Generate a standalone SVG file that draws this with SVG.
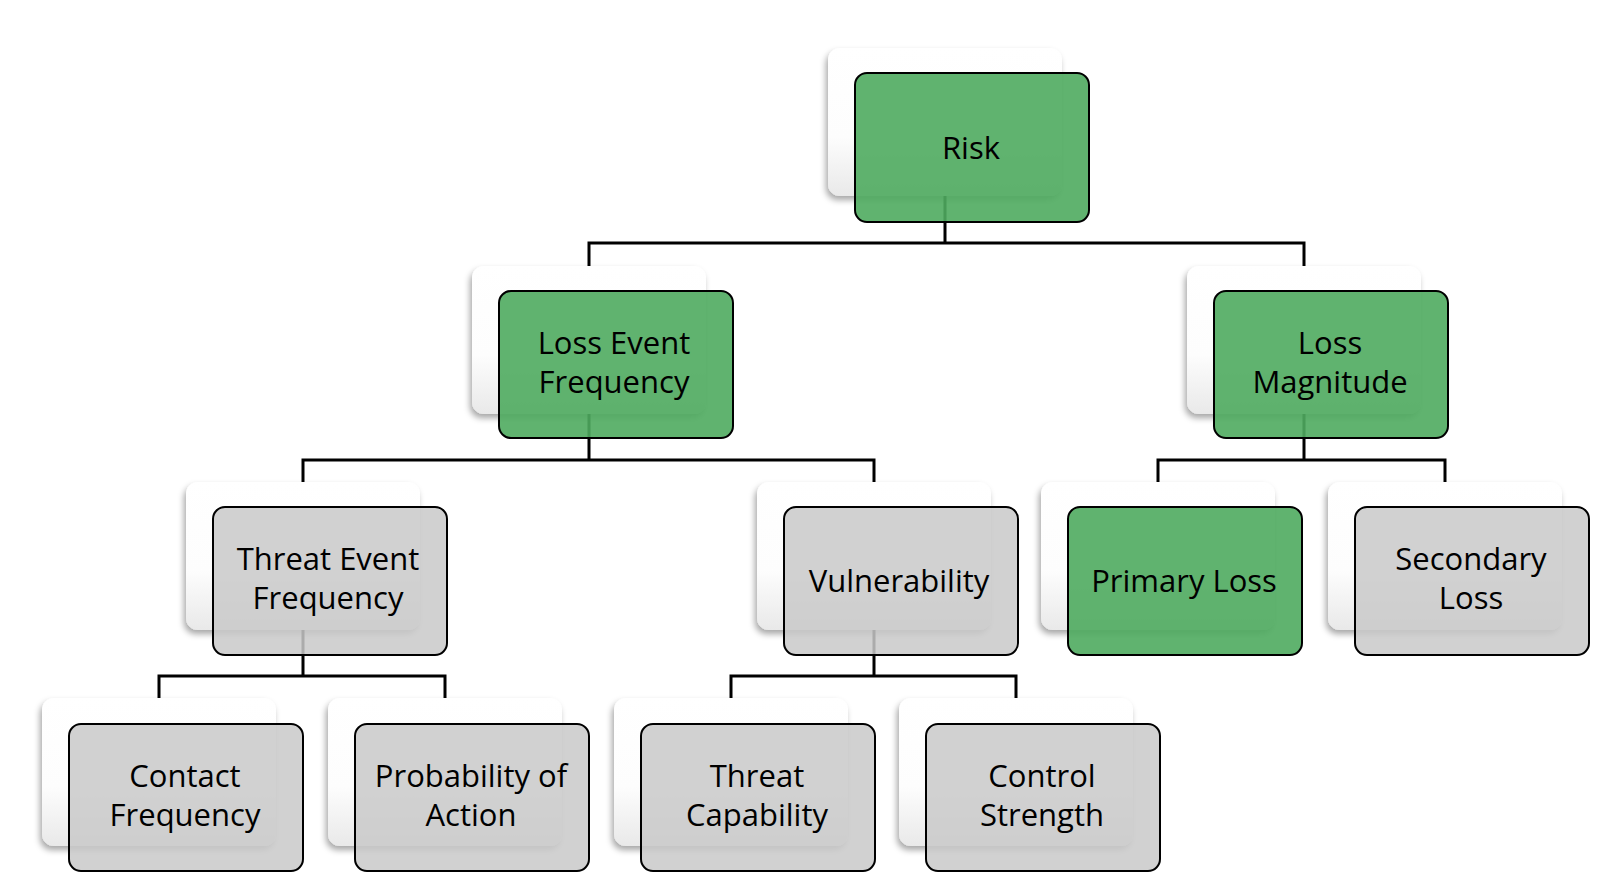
<svg xmlns="http://www.w3.org/2000/svg" width="1614" height="890" viewBox="0 0 1614 890">
<style>
.back{fill:url(#cardGrad);filter:url(#shadow)}
.green{fill:#4fab5f;fill-opacity:0.9;stroke:#000;stroke-width:2}
.gray{fill:#c9c9c9;fill-opacity:0.85;stroke:#000;stroke-width:2}
.lbl{font-family:"Open Sans","Noto Sans","Liberation Sans",sans-serif;font-size:31px;fill:#000;text-anchor:middle}
.conn{fill:none;stroke:#000;stroke-width:3}
</style>
<defs>
<linearGradient id="cardGrad" x1="0" y1="0" x2="0" y2="1">
<stop offset="0" stop-color="#ffffff"/>
<stop offset="0.6" stop-color="#fdfdfd"/>
<stop offset="1" stop-color="#e9e9e9"/>
</linearGradient>
<filter id="shadow" x="-10%" y="-10%" width="120%" height="130%">
<feDropShadow dx="-2" dy="4" stdDeviation="3" flood-color="#000" flood-opacity="0.35"/>
</filter>
</defs>
<rect width="1614" height="890" fill="#fff"/>
<g id="backs">
<rect class="back" x="828" y="48" width="234" height="148" rx="12"/>
<rect class="back" x="472" y="266" width="234" height="148" rx="12"/>
<rect class="back" x="1187" y="266" width="234" height="148" rx="12"/>
<rect class="back" x="186" y="482" width="234" height="148" rx="12"/>
<rect class="back" x="757" y="482" width="234" height="148" rx="12"/>
<rect class="back" x="1041" y="482" width="234" height="148" rx="12"/>
<rect class="back" x="1328" y="482" width="234" height="148" rx="12"/>
<rect class="back" x="42" y="698" width="234" height="148" rx="12"/>
<rect class="back" x="328" y="698" width="234" height="148" rx="12"/>
<rect class="back" x="614" y="698" width="234" height="148" rx="12"/>
<rect class="back" x="899" y="698" width="234" height="148" rx="12"/>
</g>
<g id="connectors">
<path class="conn" d="M945 196 V243 M589 266 V243 H1304 V266"/>
<path class="conn" d="M589 414 V460 M303 482 V460 H874 V482"/>
<path class="conn" d="M1304 414 V460 M1158 482 V460 H1445 V482"/>
<path class="conn" d="M303 630 V676 M159 698 V676 H445 V698"/>
<path class="conn" d="M874 630 V676 M731 698 V676 H1016 V698"/>
</g>
<g id="risk">
<rect class="green" x="855" y="73" width="234" height="149" rx="12"/>
<text class="lbl" x="971" y="159">Risk</text>
</g>
<g id="loss-event-frequency">
<rect class="green" x="499" y="291" width="234" height="147" rx="12"/>
<text class="lbl" x="614" y="354">Loss Event</text>
<text class="lbl" x="614" y="393">Frequency</text>
</g>
<g id="loss-magnitude">
<rect class="green" x="1214" y="291" width="234" height="147" rx="12"/>
<text class="lbl" x="1330" y="354">Loss</text>
<text class="lbl" x="1330" y="393">Magnitude</text>
</g>
<g id="threat-event-frequency">
<rect class="gray" x="213" y="507" width="234" height="148" rx="12"/>
<text class="lbl" x="328" y="570">Threat Event</text>
<text class="lbl" x="328" y="609">Frequency</text>
</g>
<g id="vulnerability">
<rect class="gray" x="784" y="507" width="234" height="148" rx="12"/>
<text class="lbl" x="899" y="592">Vulnerability</text>
</g>
<g id="primary-loss">
<rect class="green" x="1068" y="507" width="234" height="148" rx="12"/>
<text class="lbl" x="1184" y="592">Primary Loss</text>
</g>
<g id="secondary-loss">
<rect class="gray" x="1355" y="507" width="234" height="148" rx="12"/>
<text class="lbl" x="1471" y="570">Secondary</text>
<text class="lbl" x="1471" y="609">Loss</text>
</g>
<g id="contact-frequency">
<rect class="gray" x="69" y="724" width="234" height="147" rx="12"/>
<text class="lbl" x="185" y="787">Contact</text>
<text class="lbl" x="185" y="826">Frequency</text>
</g>
<g id="probability-of-action">
<rect class="gray" x="355" y="724" width="234" height="147" rx="12"/>
<text class="lbl" x="471" y="787">Probability of</text>
<text class="lbl" x="471" y="826">Action</text>
</g>
<g id="threat-capability">
<rect class="gray" x="641" y="724" width="234" height="147" rx="12"/>
<text class="lbl" x="757" y="787">Threat</text>
<text class="lbl" x="757" y="826">Capability</text>
</g>
<g id="control-strength">
<rect class="gray" x="926" y="724" width="234" height="147" rx="12"/>
<text class="lbl" x="1042" y="787">Control</text>
<text class="lbl" x="1042" y="826">Strength</text>
</g>
</svg>
